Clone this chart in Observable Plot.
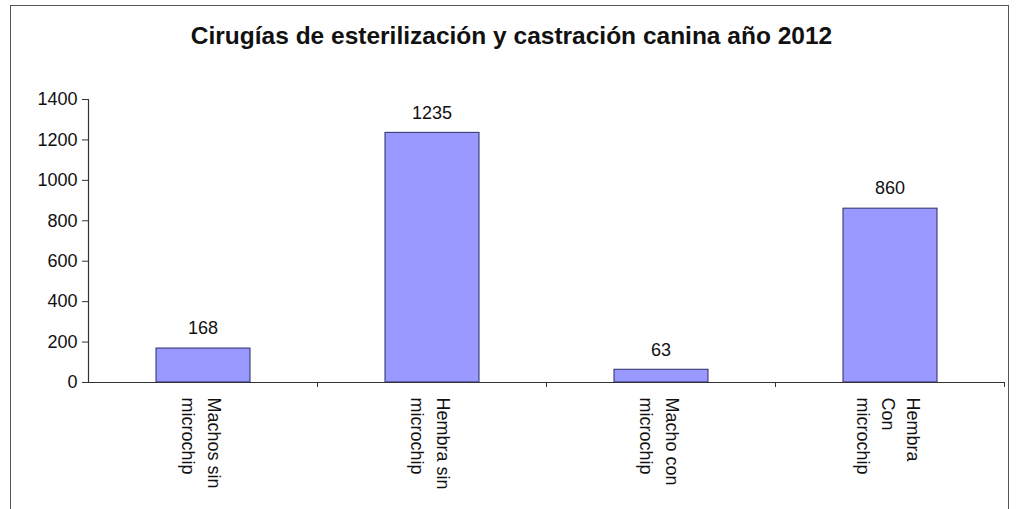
<!DOCTYPE html>
<html>
<head>
<meta charset="utf-8">
<script src="https://cdn.jsdelivr.net/npm/d3@7"></script>
<script src="https://cdn.jsdelivr.net/npm/@observablehq/plot@0.6"></script>
<style>
  html, body { margin: 0; padding: 0; background: #fff; }
  body { width: 1023px; height: 509px; overflow: hidden; position: relative; font-family: "Liberation Sans", Arial, sans-serif; }
  #frame { position: absolute; left: 10px; top: 5px; width: 999px; height: 520px; border: 1.5px solid #555; box-sizing: border-box; }
  #title { position: absolute; left: 0; top: 22px; width: 1023px; text-align: center; font-weight: bold; font-size: 24.5px; color: #111; }
  #chart { position: absolute; left: 0; top: 60px; }
</style>
</head>
<body>
<div id="frame"></div>
<div id="title">Cirugías de esterilización y castración canina año 2012</div>
<div id="chart"></div>
<script>
const categories = ["Machos sin microchip", "Hembra sin microchip", "Macho con microchip", "Hembra Con microchip"];
const tickLabels = ["Machos sin\nmicrochip", "Hembra sin\nmicrochip", "Macho con\nmicrochip", "Hembra\nCon\nmicrochip"];
const values = [168, 1235, 63, 860];
const yTicks = [0, 200, 400, 600, 800, 1000, 1200, 1400];

const data = categories.map((c, i) => ({category: c, label: tickLabels[i], value: values[i]}));
const labelOf = new Map(data.map(d => [d.category, d.label]));

const plot = Plot.plot({
  width: 1023,
  height: 449,
  marginTop: 39,
  marginBottom: 127,
  marginLeft: 88,
  marginRight: 19,
  style: {fontFamily: "'Liberation Sans', Arial, sans-serif", fontSize: "18px", color: "#222", background: "transparent"},
  x: {domain: categories, padding: 0, axis: null, label: null},
  y: {domain: [0, 1400], axis: null, label: null},
  marks: [
    Plot.barY(data, {x: "category", y: "value", fill: "#9999ff", stroke: "#2b2b66", strokeWidth: 1, insetLeft: 68, insetRight: 67}),
    Plot.text(data, {x: "category", y: "value", text: d => String(d.value), dy: -20, fontSize: 18, fill: "#111"}),
    Plot.axisY({ticks: yTicks, tickSize: 6, tickPadding: 5, fontSize: 18, stroke: "#333", strokeOpacity: 1, fill: "#111", label: null, tickFormat: d => String(d)}),
    Plot.ruleY([0], {stroke: "#333"}),
    Plot.ruleX([categories[0]], {y1: 0, y2: 1400, dx: -114.5, stroke: "#333", strokeWidth: 1.2}),
    Plot.axisX({tickSize: 5, tickFormat: () => "", dx: 114.5, stroke: "#333", strokeOpacity: 1, label: null}),
    Plot.axisX({tickSize: 0, tickPadding: 15, tickRotate: 90, fontSize: 18, lineHeight: 1.4, fill: "#111", label: null, tickFormat: d => labelOf.get(d)})
  ]
});
document.getElementById("chart").appendChild(plot);
</script>
</body>
</html>
